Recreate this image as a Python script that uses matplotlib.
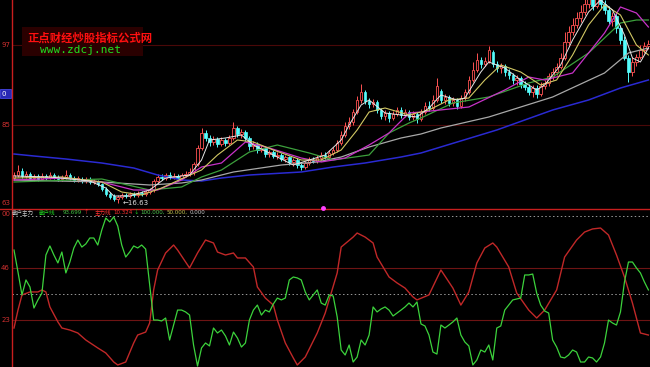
import matplotlib
matplotlib.use("Agg")
import matplotlib.pyplot as plt
from matplotlib.patches import Rectangle
from matplotlib.lines import Line2D

plt.rcParams['font.family'] = ['Noto Sans CJK SC', 'DejaVu Sans']

# === K-line data (one entry per daily bar, price) ===
opens = [17.38, 17.47, 17.59, 17.44, 17.50, 17.38, 17.44, 17.35, 17.44, 17.38,
         17.47, 17.41, 17.35, 17.41, 17.47, 17.38, 17.32, 17.35, 17.29, 17.35,
         17.26, 17.29, 17.20, 17.05, 16.90, 16.84, 16.75, 16.81, 16.87, 16.84,
         16.90, 16.87, 16.93, 16.90, 16.96, 17.02, 17.29, 17.41, 17.38, 17.47,
         17.41, 17.44, 17.38, 17.47, 17.50, 17.56, 17.80, 18.28, 18.73, 18.58,
         18.46, 18.55, 18.40, 18.52, 18.43, 18.58, 18.88, 18.70, 18.76, 18.58,
         18.34, 18.40, 18.22, 18.28, 18.10, 18.16, 18.04, 18.07, 17.95, 18.01,
         17.86, 17.92, 17.77, 17.71, 17.83, 17.92, 17.89, 17.98, 18.07, 18.01,
         18.13, 18.22, 18.43, 18.67, 18.94, 19.06, 19.36, 19.72, 19.96, 19.69,
         19.60, 19.66, 19.42, 19.24, 19.33, 19.18, 19.30, 19.42, 19.27, 19.36,
         19.21, 19.30, 19.15, 19.36, 19.54, 19.48, 19.72, 19.99, 19.72, 19.81,
         19.63, 19.72, 19.54, 19.78, 19.96, 20.32, 20.62, 20.92, 20.80, 20.89,
         21.16, 20.80, 20.68, 20.74, 20.56, 20.47, 20.32, 20.38, 20.20, 20.11,
         19.96, 20.08, 19.90, 20.14, 20.23, 20.44, 20.56, 20.71, 20.98, 21.46,
         21.76, 21.97, 22.18, 22.36, 22.60, 22.78, 22.54, 22.84, 22.60, 22.42,
         22.09, 22.24, 21.88, 21.52, 20.98, 20.56, 20.86, 21.01, 21.22, 21.34]
closes = [17.47, 17.59, 17.44, 17.50, 17.38, 17.44, 17.35, 17.44, 17.38, 17.47,
          17.41, 17.35, 17.41, 17.47, 17.38, 17.32, 17.38, 17.29, 17.35, 17.26,
          17.29, 17.20, 17.05, 16.90, 16.81, 16.75, 16.81, 16.87, 16.84, 16.90,
          16.87, 16.93, 16.90, 16.96, 17.02, 17.29, 17.41, 17.38, 17.47, 17.41,
          17.44, 17.38, 17.47, 17.50, 17.56, 17.80, 18.28, 18.73, 18.58, 18.46,
          18.55, 18.40, 18.52, 18.43, 18.58, 18.88, 18.70, 18.76, 18.58, 18.34,
          18.40, 18.22, 18.28, 18.10, 18.16, 18.04, 18.07, 17.95, 18.01, 17.86,
          17.92, 17.77, 17.71, 17.83, 17.92, 17.89, 17.98, 18.07, 18.01, 18.13,
          18.22, 18.43, 18.67, 18.94, 19.06, 19.36, 19.72, 19.96, 19.69, 19.60,
          19.66, 19.42, 19.24, 19.33, 19.18, 19.30, 19.42, 19.27, 19.36, 19.21,
          19.30, 19.15, 19.36, 19.54, 19.48, 19.72, 20.14, 19.72, 19.81, 19.63,
          19.72, 19.54, 19.78, 19.96, 20.32, 20.62, 20.92, 20.80, 20.89, 21.22,
          20.80, 20.68, 20.74, 20.56, 20.47, 20.32, 20.38, 20.20, 20.11, 19.96,
          20.08, 19.90, 20.14, 20.23, 20.44, 20.56, 20.71, 20.98, 21.46, 21.76,
          21.97, 22.18, 22.36, 22.60, 22.78, 22.54, 22.84, 22.60, 22.42, 22.09,
          22.24, 21.88, 21.52, 20.98, 20.56, 20.86, 21.01, 21.22, 21.34, 21.40]
highs = [17.56, 17.77, 17.68, 17.59, 17.56, 17.50, 17.50, 17.53, 17.50, 17.56,
         17.53, 17.47, 17.47, 17.62, 17.53, 17.44, 17.44, 17.41, 17.41, 17.41,
         17.35, 17.32, 17.23, 17.11, 16.96, 16.90, 16.87, 16.93, 16.93, 16.96,
         16.96, 16.99, 16.99, 17.02, 17.08, 17.35, 17.50, 17.50, 17.53, 17.56,
         17.53, 17.50, 17.53, 17.59, 17.68, 17.86, 18.37, 18.88, 18.82, 18.67,
         18.64, 18.61, 18.61, 18.58, 18.67, 19.06, 18.94, 18.85, 18.82, 18.64,
         18.49, 18.46, 18.37, 18.34, 18.22, 18.22, 18.16, 18.13, 18.07, 18.04,
         17.98, 17.98, 17.83, 17.89, 18.01, 18.01, 18.07, 18.16, 18.16, 18.22,
         18.31, 18.52, 18.79, 19.06, 19.21, 19.45, 19.84, 20.20, 20.02, 19.78,
         19.75, 19.72, 19.48, 19.42, 19.39, 19.39, 19.51, 19.51, 19.45, 19.42,
         19.39, 19.36, 19.45, 19.66, 19.69, 19.87, 20.38, 20.05, 19.90, 19.87,
         19.81, 19.78, 19.87, 20.05, 20.44, 20.86, 21.13, 21.01, 21.01, 21.34,
         21.22, 20.89, 20.83, 20.80, 20.65, 20.53, 20.47, 20.44, 20.29, 20.20,
         20.17, 20.17, 20.26, 20.32, 20.53, 20.68, 20.83, 21.13, 21.76, 21.94,
         22.18, 22.36, 22.57, 22.87, 23.02, 22.96, 23.08, 22.96, 22.72, 22.54,
         22.36, 22.33, 21.97, 21.64, 21.07, 21.01, 21.10, 21.37, 21.46, 21.52]
lows = [17.32, 17.41, 17.38, 17.38, 17.32, 17.29, 17.29, 17.32, 17.32, 17.35,
        17.35, 17.29, 17.29, 17.35, 17.32, 17.26, 17.26, 17.23, 17.23, 17.20,
        17.20, 17.14, 16.99, 16.84, 16.75, 16.69, 16.63, 16.75, 16.78, 16.78,
        16.81, 16.81, 16.84, 16.84, 16.90, 16.96, 17.23, 17.32, 17.32, 17.35,
        17.35, 17.32, 17.32, 17.41, 17.44, 17.47, 17.74, 18.22, 18.49, 18.34,
        18.37, 18.31, 18.34, 18.34, 18.37, 18.52, 18.61, 18.58, 18.49, 18.22,
        18.25, 18.13, 18.16, 18.01, 18.01, 17.98, 17.95, 17.89, 17.86, 17.77,
        17.74, 17.68, 17.62, 17.65, 17.77, 17.83, 17.83, 17.92, 17.95, 17.95,
        18.07, 18.16, 18.37, 18.61, 18.85, 18.97, 19.30, 19.63, 19.60, 19.48,
        19.51, 19.33, 19.15, 19.12, 19.06, 19.12, 19.24, 19.18, 19.21, 19.12,
        19.12, 19.03, 19.09, 19.30, 19.39, 19.42, 19.66, 19.63, 19.60, 19.54,
        19.54, 19.45, 19.48, 19.69, 19.90, 20.26, 20.56, 20.68, 20.74, 20.83,
        20.71, 20.56, 20.53, 20.44, 20.35, 20.20, 20.17, 20.08, 20.02, 19.87,
        19.81, 19.78, 19.84, 20.05, 20.14, 20.32, 20.47, 20.65, 20.92, 21.37,
        21.67, 21.88, 22.06, 22.27, 22.48, 22.42, 22.48, 22.48, 22.30, 22.00,
        21.94, 21.73, 21.40, 20.92, 20.26, 20.44, 20.74, 20.95, 21.13, 21.25]

ma5_bar = [0, 9, 19, 23, 25, 29, 34, 38, 44, 47, 49, 53, 57, 60, 65, 70, 74, 78, 82, 84,
           87, 89, 93, 97, 101, 104, 107, 111, 113, 117, 119, 123, 127, 131, 133, 137, 140,
           144, 147, 150, 153, 155, 157, 159]
ma5_val = [17.44, 17.41, 17.29, 17.08, 16.84, 16.84, 17.02, 17.38, 17.47, 17.92,
           18.52, 18.58, 18.67, 18.37, 18.07, 17.77, 17.92, 18.07, 18.52, 18.97,
           19.57, 19.72, 19.33, 19.27, 19.21, 19.48, 19.87, 19.72, 19.78, 20.56,
           20.86, 20.68, 20.32, 20.02, 20.17, 20.77, 21.52, 22.36, 22.72, 22.42,
           21.67, 20.98, 20.86, 21.28]
ma10_bar = [0, 12, 22, 27, 32, 37, 43, 47, 51, 56, 60, 65, 72, 77, 82, 86, 89, 93, 99, 104,
            109, 114, 118, 122, 127, 132, 136, 140, 144, 148, 152, 156, 159]
ma10_val = [17.38, 17.41, 17.26, 16.96, 16.87, 17.08, 17.41, 17.62, 18.07, 18.52,
            18.46, 18.22, 17.92, 17.92, 18.22, 18.82, 19.36, 19.48, 19.27, 19.42,
            19.72, 19.78, 20.32, 20.77, 20.56, 20.17, 20.32, 21.07, 21.97, 22.57,
            22.27, 21.37, 21.07]
ma20_bar = [0, 13, 22, 30, 36, 42, 47, 52, 58, 64, 72, 77, 83, 89, 94, 99, 102, 114, 123,
            129, 133, 140, 148, 152, 156, 159]
ma20_val = [17.32, 17.38, 17.26, 17.02, 17.02, 17.32, 17.71, 17.83, 18.46, 18.28,
            17.98, 17.86, 17.98, 18.37, 18.73, 19.33, 19.36, 19.51, 20.02, 20.41,
            20.32, 20.53, 21.73, 22.51, 22.33, 21.91]
ma30_bar = [0, 22, 34, 42, 47, 52, 59, 66, 74, 80, 89, 94, 99, 102, 110, 119, 129, 135,
            144, 152, 156, 159]
ma30_val = [17.26, 17.35, 17.02, 17.11, 17.41, 17.62, 18.16, 18.37, 18.13, 17.92,
            18.07, 18.73, 19.03, 19.18, 19.63, 19.81, 20.23, 20.41, 21.13, 22.03,
            22.12, 22.12]
ma60_bar = [0, 22, 34, 42, 47, 55, 67, 76, 82, 89, 97, 102, 107, 119, 127, 135, 148, 154, 159]
ma60_val = [17.32, 17.26, 17.17, 17.23, 17.32, 17.56, 17.77, 17.86, 18.01, 18.31,
            18.58, 18.70, 18.88, 19.21, 19.51, 19.81, 20.53, 21.13, 21.28]
ma120_bar = [0, 5, 13, 22, 30, 36, 42, 47, 52, 59, 72, 80, 88, 97, 102, 121, 135, 144, 152, 159]
ma120_val = [18.10, 18.04, 17.95, 17.83, 17.68, 17.47, 17.32, 17.29, 17.38, 17.47,
             17.56, 17.71, 17.83, 18.01, 18.13, 18.82, 19.42, 19.72, 20.08, 20.32]

# === 散户主力 indicator ===
retail_line = [78.2, 64.1, 49.4, 59.0, 54.5, 41.0, 46.2, 50.6, 75.0, 80.8,
               75.0, 69.9, 76.9, 63.5, 70.5, 79.5, 84.6, 80.1, 82.1, 85.9,
               85.9, 81.4, 91.0, 98.7, 96.2, 99.4, 93.6, 81.4, 73.7, 76.9,
               80.8, 79.5, 81.4, 78.8, 55.8, 33.3, 33.3, 32.7, 34.6, 20.5,
               30.1, 39.7, 39.7, 38.5, 36.5, 17.3, 3.8, 15.4, 18.6, 16.7,
               28.2, 25.0, 26.9, 23.1, 17.3, 25.6, 21.8, 16.0, 18.6, 33.3,
               39.7, 42.9, 36.5, 39.7, 38.5, 43.6, 47.4, 46.2, 47.4, 59.0,
               60.9, 60.3, 59.0, 51.3, 46.2, 49.4, 52.6, 44.2, 42.9, 49.4,
               48.7, 35.3, 14.1, 10.9, 17.3, 6.4, 9.6, 20.5, 17.3, 23.7,
               41.7, 38.5, 40.4, 41.7, 39.7, 35.9, 37.8, 39.7, 41.7, 44.2,
               41.7, 44.9, 30.8, 29.5, 23.7, 12.8, 11.5, 30.1, 28.2, 30.1,
               32.1, 34.6, 23.7, 19.2, 16.7, 4.5, 7.7, 14.1, 12.8, 17.3,
               7.7, 28.2, 29.5, 39.7, 42.9, 46.2, 46.8, 47.4, 62.2, 62.2,
               62.8, 50.6, 42.9, 39.1, 37.8, 20.5, 16.0, 9.6, 9.0, 10.9,
               14.1, 12.8, 6.4, 6.4, 9.6, 9.0, 6.4, 9.6, 18.6, 33.3,
               31.4, 30.1, 38.5, 57.7, 70.5, 70.5, 66.7, 63.5, 57.7, 52.6]
main_bar = [0, 1, 2, 4, 6, 7, 8, 9, 11, 12, 14, 16, 18, 21, 23, 25, 26, 28, 30, 31,
            33, 34, 35, 36, 38, 40, 41, 44, 46, 48, 50, 51, 53, 55, 56, 58, 60, 61, 63, 65,
            66, 68, 70, 71, 73, 76, 78, 81, 82, 85, 86, 88, 90, 91, 94, 96, 98, 100, 101, 104,
            107, 110, 112, 114, 116, 118, 120, 121, 124, 126, 129, 131, 133, 136, 138, 141,
            143, 145, 147, 149, 151, 153, 155, 157, 159]
main_val = [28.2, 39.7, 49.4, 51.3, 51.3, 52.6, 51.3, 41.7, 32.1, 28.2,
            26.9, 25.0, 20.5, 15.4, 12.2, 6.4, 4.5, 6.4, 18.6, 23.7,
            25.6, 31.4, 52.6, 65.4, 76.3, 81.4, 78.2, 66.7, 76.3, 84.6,
            82.7, 76.9, 75.0, 76.3, 73.1, 73.1, 67.3, 54.5, 47.4, 42.9,
            33.3, 18.6, 9.0, 4.5, 9.6, 25.0, 37.8, 63.5, 80.1, 86.5,
            89.1, 86.5, 82.7, 73.7, 60.9, 57.1, 53.8, 48.1, 46.2, 49.4,
            65.4, 53.8, 42.9, 51.3, 69.9, 79.5, 82.7, 80.1, 67.3, 50.6,
            39.7, 34.6, 39.7, 52.6, 73.7, 84.6, 89.7, 91.7, 92.3, 87.8,
            75.0, 60.9, 44.2, 25.0, 23.7]

RED = '#ff5252'
CYAN = '#54fcfc'
AXRED = '#c81e1e'

W, H = 650, 367
fig = plt.figure(figsize=(6.5, 3.67), dpi=100, facecolor='black')


def px_axes(x0, y0, x1, y1):
    # axes placed by pixel box (top-left origin)
    return fig.add_axes([x0 / W, 1 - y1 / H, (x1 - x0) / W, (y1 - y0) / H])


def fx(x):
    return x / W


def fy(y):
    return 1 - y / H


ax = px_axes(12, 0, 650, 208)
ax2 = px_axes(12, 216, 650, 367)
for a in (ax, ax2):
    a.set_facecolor('black')
    for s in a.spines.values():
        s.set_visible(False)
    a.set_xticks([])
    a.set_yticks([])
    a.set_xlim(-0.5, 159.4)
ax.set_ylim(16.48, 22.72)
ax2.set_ylim(3.2, 100)

# --- price panel ---
for lvl in (21.37, 18.97):
    ax.axhline(lvl, color='#4a0808', lw=0.8, zorder=0)

bw = 0.62
for i, (o, h, l, c) in enumerate(zip(opens, highs, lows, closes)):
    if c >= o:
        ax.vlines(i, c, h, color=RED, lw=0.7, zorder=2)
        ax.vlines(i, l, o, color=RED, lw=0.7, zorder=2)
        ax.add_patch(Rectangle((i - bw / 2, o), bw, max(c - o, 0.01),
                               facecolor='black', edgecolor=RED, lw=0.6, zorder=2))
    else:
        ax.vlines(i, l, h, color=CYAN, lw=0.7, zorder=2)
        ax.add_patch(Rectangle((i - bw / 2, c), bw, o - c,
                               facecolor=CYAN, edgecolor=CYAN, lw=0.5, zorder=2))

ax.plot(ma120_bar, ma120_val, color='#2a2ad2', lw=1.1, zorder=3)
ax.plot(ma60_bar, ma60_val, color='#a8a8a8', lw=0.9, zorder=3)
ax.plot(ma30_bar, ma30_val, color='#3ca03c', lw=0.9, zorder=3)
ax.plot(ma20_bar, ma20_val, color='#c832c8', lw=0.9, zorder=3)
ax.plot(ma10_bar, ma10_val, color='#d2c864', lw=0.8, zorder=3)
ax.plot(ma5_bar, ma5_val, color='#e6e6e6', lw=0.7, zorder=3)

low_i = lows.index(min(lows))
ax.text(low_i + 1.3, min(lows), '\u2190' + f'{min(lows):.2f}', color='#e0e0e0', fontsize=5,
        va='center', ha='left', family=['DejaVu Sans'], zorder=4)

# --- indicator panel ---
ax2.axhline(66.67, color='#6e1414', lw=0.8, zorder=0)
ax2.axhline(33.33, color='#6e1414', lw=0.8, zorder=0)
ax2.axhline(50, color='#9a9a9a', lw=0.7, ls=(0, (1.5, 2.5)), zorder=0)
ax2.axhline(100, color='#9a9a9a', lw=0.7, ls=(0, (1.5, 2.5)), zorder=0, clip_on=False)
ax2.plot(main_bar, main_val, color='#c02828', lw=1.0)
ax2.plot(range(len(retail_line)), retail_line, color='#3cd23c', lw=0.9)

# --- frame lines ---
fig.add_artist(Line2D([fx(11.5), fx(11.5)], [0, 1], color=AXRED, lw=1.0))
fig.add_artist(Line2D([0, 1], [fy(208.5), fy(208.5)], color=AXRED, lw=1.0))
fig.add_artist(Line2D([fx(323)], [fy(208)], marker='o', ms=2.5, color='#ff40ff', lw=0))

# left scale labels (clipped in the original screenshot)
for txt, y in (('97', 45), ('85', 125), ('63', 203), ('00', 214), ('46', 268), ('23', 320)):
    fig.text(fx(10), fy(y), txt, color='#d03030', fontsize=5, ha='right', va='center',
             family=['DejaVu Sans'])
fig.patches.append(Rectangle((0, fy(98)), fx(11), fy(89) - fy(98), transform=fig.transFigure,
                             facecolor='#2828b4', edgecolor='#5050ff', lw=0.5))
fig.text(fx(1), fy(93.5), '0', color='white', fontsize=5, ha='left', va='center',
         family=['DejaVu Sans'])

# watermark
fig.patches.append(Rectangle((fx(22), fy(56)), fx(121), fy(27) - fy(56), transform=fig.transFigure,
                             facecolor='#2a0000', edgecolor='none'))
fig.text(fx(27), fy(38), '正点财经炒股指标公式网', color='#ff1010', fontsize=8.2,
         ha='left', va='center', weight='bold')
fig.text(fx(40), fy(50), 'www.zdcj.net', color='#20e020', fontsize=8,
         ha='left', va='center', family=['DejaVu Sans Mono'])

# indicator header: pieces chained left to right, starting near their original spots
hy = fy(212.5)
parts = [(12, '散户主力', '#c8c8c8'), (39, '散户线', '#20d020'), (63, '93.699', '#40c040'),
         (83, '\u2191', '#ff3030'), (95, '主力线', '#ff3030'), (112, '10.324', '#ff3030'),
         (126, '\u2193', '#20d020'), (130, '100.000,', '#50c850'), (157, '50.000,', '#c8c850'),
         (180, '0.000', '#c8c8c8')]
renderer = fig.canvas.get_renderer()
cursor = 0
for x, t, col in parts:
    fam = ['Noto Sans CJK SC'] if not t[0].isdigit() else ['DejaVu Sans']
    x0 = max(x, cursor)
    tx = fig.text(fx(x0), hy, t, color=col, fontsize=4, ha='left', va='center', family=fam)
    bb = tx.get_window_extent(renderer)
    cursor = bb.x1 + 1.5

fig.savefig('out.png', dpi=100, facecolor='black')
